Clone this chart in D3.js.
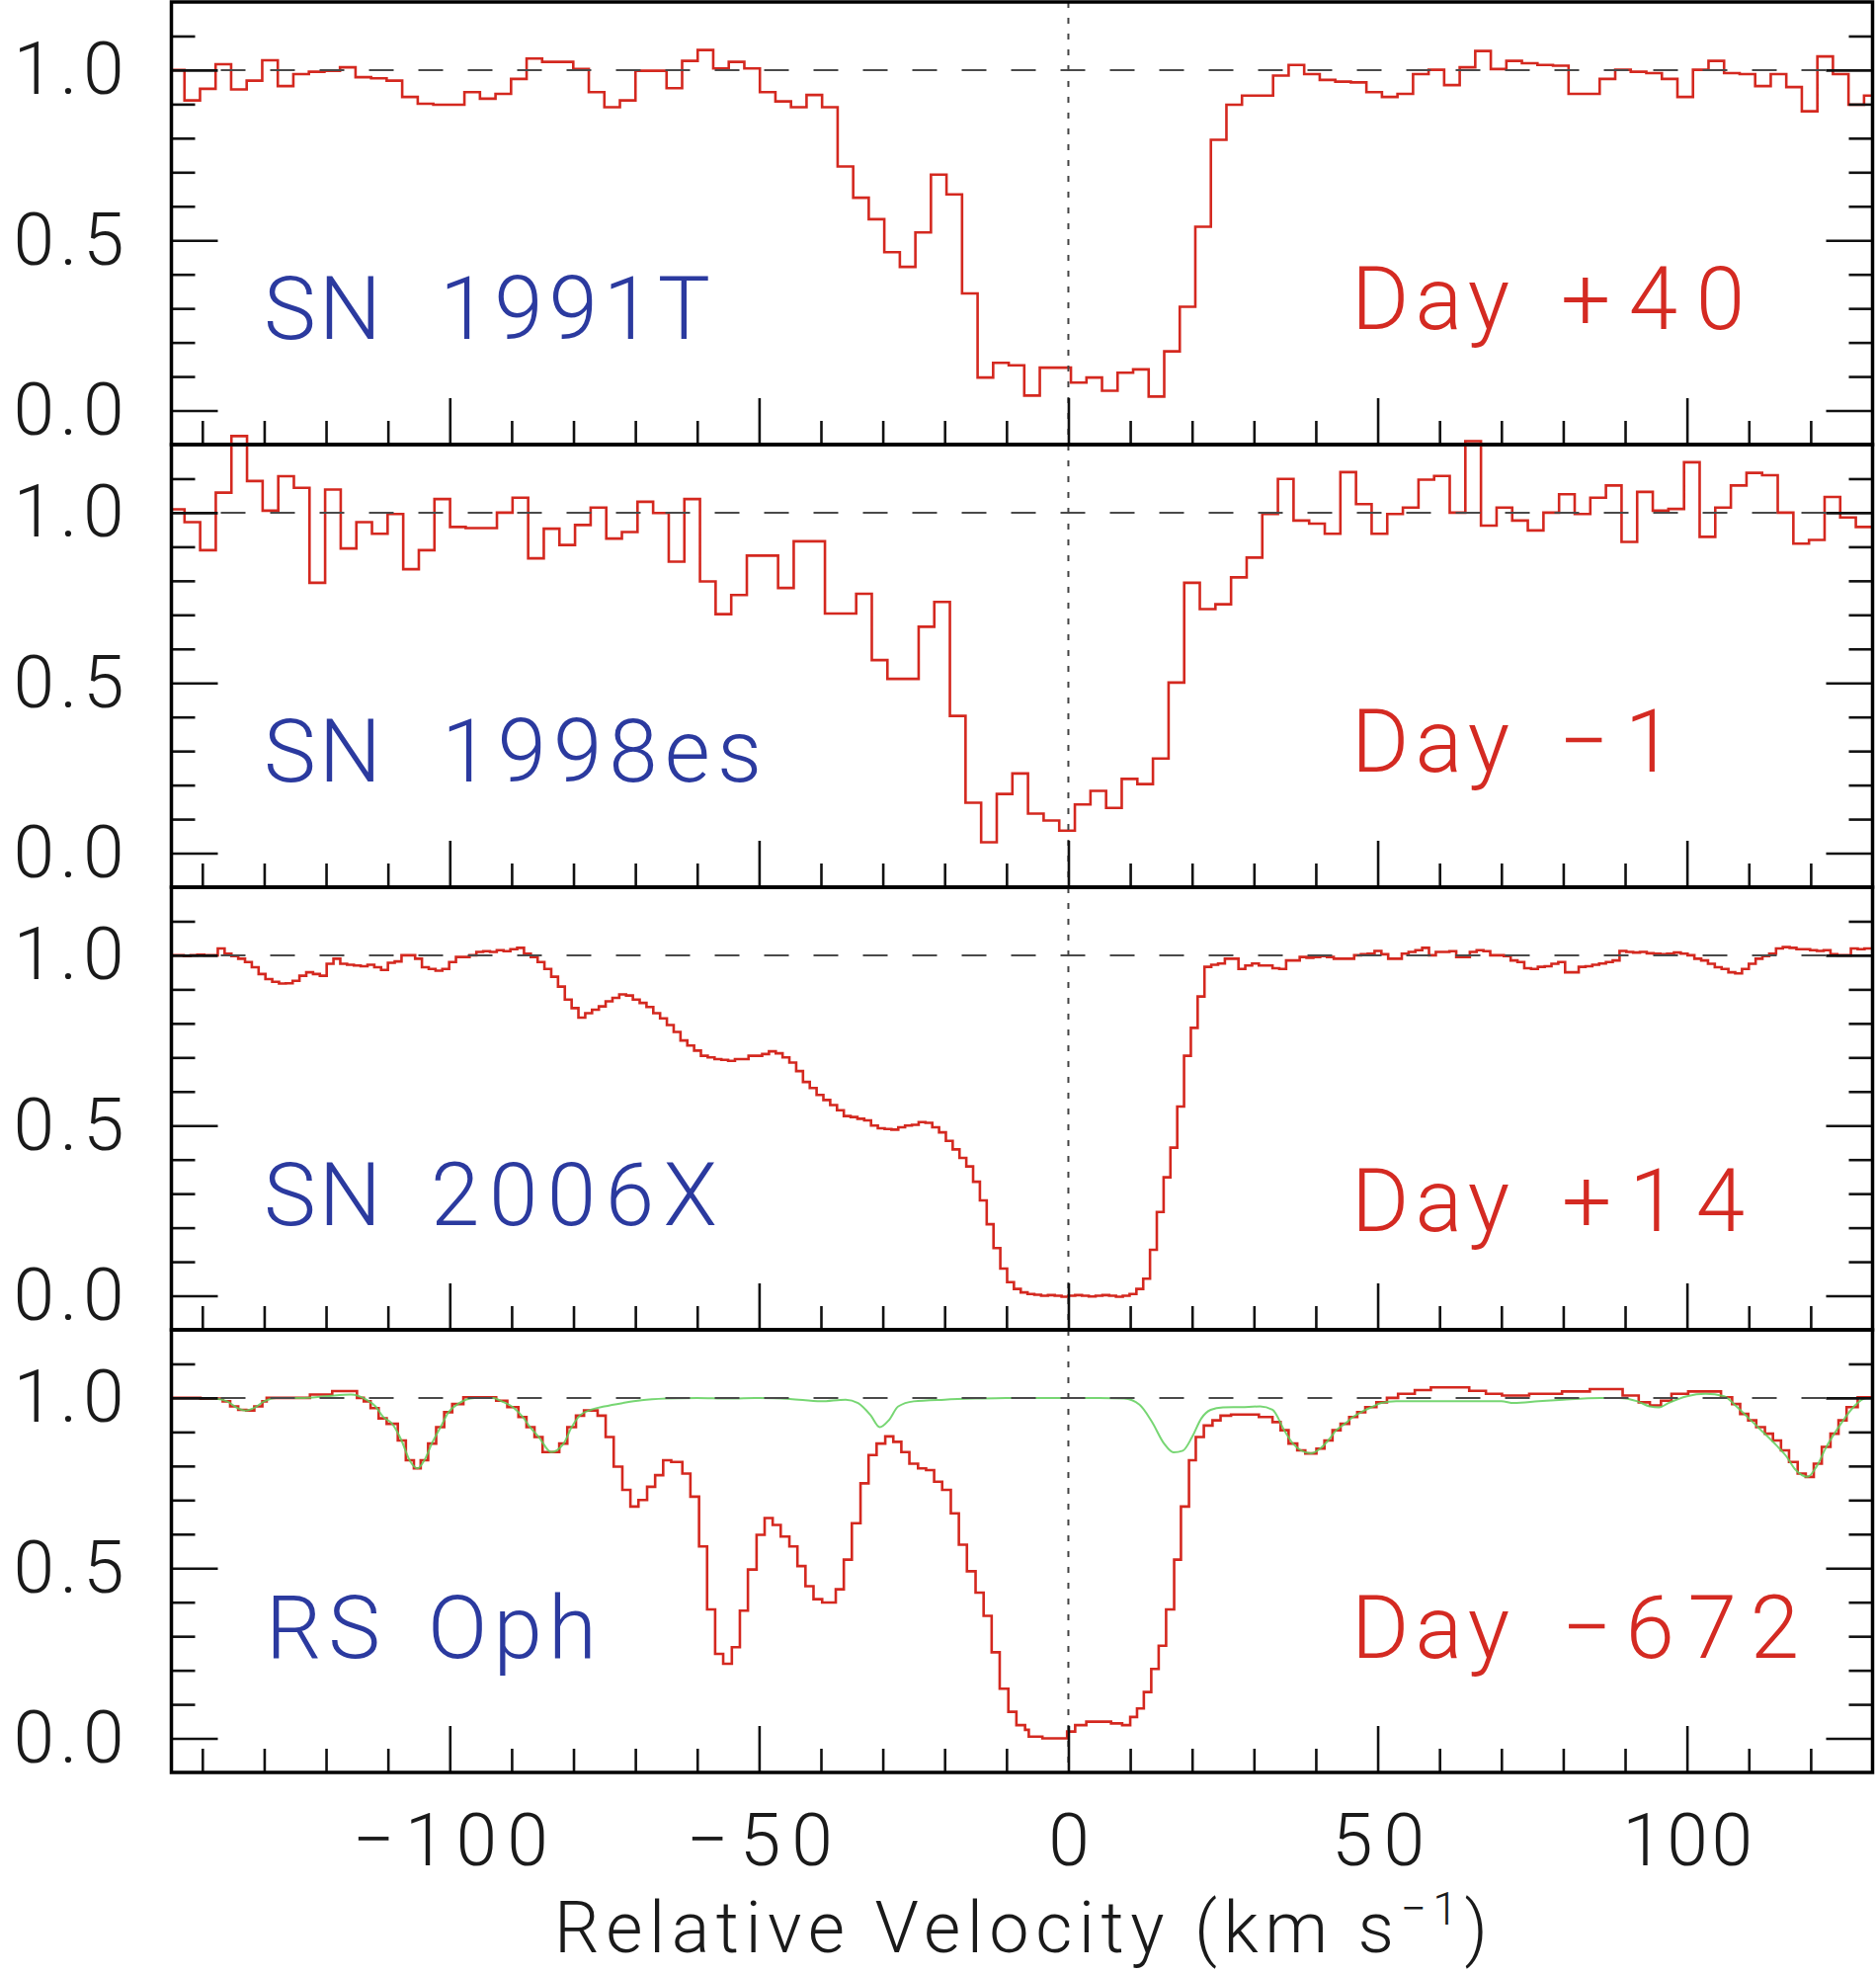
<!DOCTYPE html>
<html>
<head>
<meta charset="utf-8">
<title>Na I D absorption profiles</title>
<script src="https://cdn.jsdelivr.net/npm/d3@7"></script>
<style>
  html, body { margin: 0; padding: 0; background: #ffffff; }
  svg { display: block; }
</style>
</head>
<body>
<svg id="chart" width="1899" height="1997"></svg>
<script>
// ---------------------------------------------------------------
// Data
// ---------------------------------------------------------------
const objectNames = ["SN 1991T", "SN 1998es", "SN 2006X", "RS Oph"];
const epochLabels = ["Day +40", "Day \u22121", "Day +14", "Day \u2212672"];

const velocityDomain = [-145, 130];          // km/s
const fluxDomain = [-0.1, 1.2];              // normalised flux
const xMajorTicks = [-100, -50, 0, 50, 100];
const xMinorTicks = [-140, -130, -120, -110, -90, -80, -70, -60, -40, -30, -20, -10,
                     10, 20, 30, 40, 60, 70, 80, 90, 110, 120];
const yMajorTicks = [0, 0.5, 1.0];
const yMinorTicks = [0.1, 0.2, 0.3, 0.4, 0.6, 0.7, 0.8, 0.9, 1.1];
const continuumLevel = 1.0;
const restVelocity = 0;

// Pixel sampling of each spectrum (first bin start, bin width in km/s)
const grid1991T = { start: -145.4, step: 2.514 };
const grid1998es = { start: -145.4, step: 2.525 };
const grid2006X = { start: -145.2, step: 1.1 };

// SN 1991T, day +40 (binned flux)
const flux1991T = [1.0,
  0.911, 0.945, 1.017, 0.943, 0.969, 1.029, 0.953, 0.988, 0.995, 0.998,
  1.008, 0.979, 0.976, 0.969, 0.921, 0.901, 0.898, 0.898, 0.935, 0.916,
  0.930, 0.974, 1.034, 1.024, 1.024, 1.003, 0.935, 0.891, 0.911, 0.998,
  0.998, 0.947, 1.027, 1.059, 1.005, 1.024, 1.005, 0.935, 0.908, 0.891,
  0.927, 0.891, 0.717, 0.625, 0.562, 0.465, 0.422, 0.523, 0.693, 0.635,
  0.344, 0.097, 0.140, 0.133, 0.044, 0.126, 0.126, 0.082, 0.097, 0.058,
  0.111, 0.121, 0.041, 0.174, 0.305, 0.540, 0.795, 0.898, 0.925, 0.925,
  0.984, 1.015, 0.988, 0.971, 0.966, 0.964, 0.935, 0.921, 0.930, 0.988,
  1.001, 0.956, 1.008, 1.056, 1.003, 1.027, 1.020, 1.015, 1.013, 0.930,
  0.930, 0.974, 1.001, 0.995, 0.991, 0.974, 0.921, 1.001, 1.027, 0.991,
  0.988, 0.953, 0.988, 0.950, 0.879, 1.040, 0.988, 0.898, 0.925];

// SN 1998es, day -1
const flux1998es = [1.01,
  0.972, 0.890, 1.059, 1.225, 1.093, 1.006, 1.107, 1.073, 0.794, 1.068,
  0.895, 0.972, 0.938, 0.996, 0.834, 0.890, 1.040, 0.958, 0.955, 0.955,
  1.000, 1.044, 0.866, 0.953, 0.905, 0.964, 1.015, 0.924, 0.943, 1.032,
  0.999, 0.856, 1.040, 0.798, 0.702, 0.758, 0.874, 0.874, 0.779, 0.916,
  0.916, 0.704, 0.704, 0.762, 0.567, 0.512, 0.512, 0.665, 0.738, 0.403,
  0.148, 0.032, 0.174, 0.234, 0.116, 0.096, 0.066, 0.143, 0.183, 0.133,
  0.218, 0.203, 0.278, 0.501, 0.794, 0.717, 0.731, 0.810, 0.868, 0.996,
  1.099, 0.977, 0.968, 0.938, 1.119, 1.025, 0.938, 0.996, 1.015, 1.097,
  1.108, 1.000, 1.210, 0.962, 1.015, 0.977, 0.948, 1.000, 1.054, 0.996,
  1.044, 1.080, 0.914, 1.061, 1.006, 1.011, 1.148, 0.929, 1.015, 1.080,
  1.117, 1.110, 1.000, 0.909, 0.920, 1.046, 0.986, 0.958];

// SN 2006X, day +14
const flux2006X = [
  1.0, 1.0, 0.998, 1.0, 1.002, 1.0, 1.0, 1.02, 1.005, 0.998,
  0.99, 0.98, 0.965, 0.945, 0.93, 0.922, 0.917, 0.918, 0.925, 0.94,
  0.95, 0.945, 0.94, 0.975, 0.99, 0.975, 0.972, 0.97, 0.968, 0.972,
  0.965, 0.957, 0.978, 0.982, 1.0, 1.0, 0.99, 0.965, 0.96, 0.955,
  0.96, 0.98, 0.995, 0.995, 1.0, 1.01, 1.012, 1.01, 1.015, 1.012,
  1.018, 1.022, 1.005, 0.995, 0.98, 0.96, 0.937, 0.908, 0.87, 0.845,
  0.817, 0.83, 0.84, 0.85, 0.865, 0.875, 0.885, 0.882, 0.87, 0.86,
  0.848, 0.83, 0.815, 0.795, 0.775, 0.75, 0.735, 0.72, 0.705, 0.7,
  0.695, 0.693, 0.69, 0.695, 0.695, 0.705, 0.705, 0.71, 0.718, 0.712,
  0.7, 0.685, 0.66, 0.628, 0.61, 0.59, 0.575, 0.56, 0.545, 0.528,
  0.525, 0.52, 0.515, 0.5, 0.492, 0.49, 0.488, 0.495, 0.5, 0.502,
  0.51, 0.508, 0.495, 0.48, 0.455, 0.43, 0.405, 0.38, 0.335, 0.28,
  0.21, 0.14, 0.08, 0.04, 0.02, 0.01, 0.005, 0.003, 0.0, 0.002,
  0.0, -0.003, 0.0, 0.002, 0.0, -0.002, 0.0, 0.002, 0.0, -0.003,
  0.0, 0.005, 0.02, 0.05, 0.135, 0.246, 0.348, 0.435, 0.556, 0.705,
  0.787, 0.879, 0.966, 0.972, 0.976, 0.99, 0.99, 0.96, 0.97, 0.976,
  0.97, 0.97, 0.962, 0.96, 0.985, 0.985, 0.995, 0.993, 0.995, 0.998,
  0.995, 0.99, 0.99, 0.99, 1.0, 1.003, 1.005, 1.013, 1.003, 0.99,
  0.99, 1.005, 1.01, 1.015, 1.022, 1.0, 1.01, 1.01, 1.012, 0.995,
  0.995, 1.01, 1.015, 1.012, 1.0, 1.0, 0.998, 0.985, 0.98, 0.962,
  0.96, 0.966, 0.968, 0.975, 0.98, 0.95, 0.95, 0.966, 0.968, 0.972,
  0.976, 0.98, 0.985, 1.013, 1.01, 1.008, 1.01, 1.006, 1.005, 1.003,
  1.005, 1.008, 1.005, 1.0, 0.99, 0.985, 0.975, 0.965, 0.96, 0.95,
  0.947, 0.96, 0.975, 0.99, 0.998, 1.005, 1.02, 1.024, 1.022, 1.018,
  1.018, 1.015, 1.013, 1.015, 1.003, 1.0, 1.0, 1.02, 1.018, 1.02];

// RS Oph, day -672: step edges (km/s, last entry closes the final step) and flux
const rsOphVel = [-145.6, -140.3, -136.7, -135.5, -134.2, -132.9, -131.6, -130.3, -129.6, -122.6,
  -119.0, -115.0, -113.9, -112.8, -111.5, -110.2, -108.4, -107.1, -105.8, -104.7,
  -103.5, -102.2, -100.9, -99.6, -97.8, -92.5, -90.7, -88.9, -87.6, -86.3,
  -85.0, -82.3, -81.0, -79.6, -78.3, -76.1, -74.8, -73.5, -72.1, -70.8,
  -69.5, -68.1, -66.8, -65.5, -64.2, -62.4, -61.1, -59.7, -58.4, -57.1,
  -55.8, -54.4, -53.1, -51.8, -50.4, -49.1, -47.8, -46.5, -45.1, -43.8,
  -42.5, -41.2, -39.8, -37.6, -36.3, -35.0, -33.6, -32.3, -31.0, -29.6,
  -28.3, -27.0, -25.7, -24.3, -23.0, -21.7, -20.4, -19.0, -17.7, -16.4,
  -15.0, -13.7, -12.4, -11.1, -9.7, -8.4, -7.0, -6.4, -4.2, -0.2,
  1.1, 2.9, 6.9, 8.7, 10.0, 11.1, 12.2, 13.4, 14.6, 15.8,
  17.1, 18.2, 19.5, 20.6, 21.9, 23.3, 24.6, 26.3, 30.8, 33.0,
  34.3, 35.6, 37.0, 38.3, 40.1, 41.4, 42.7, 44.0, 45.4, 46.7,
  48.0, 49.8, 51.5, 53.3, 56.0, 58.6, 64.8, 67.5, 70.1, 74.5,
  79.8, 84.3, 89.6, 92.2, 94.0, 95.8, 97.5, 100.2, 105.5, 107.3,
  108.6, 109.9, 111.2, 112.6, 113.9, 115.2, 116.5, 117.9, 119.2, 120.5,
  121.8, 123.2, 124.5, 125.8, 127.6, 130.6];
const rsOphFlux = [1.0, 0.998, 0.99, 0.975, 0.965, 0.963, 0.975, 0.99, 1.0, 1.01,
  1.02, 1.0, 0.99, 0.97, 0.94, 0.924, 0.875, 0.817, 0.793, 0.817,
  0.866, 0.914, 0.958, 0.982, 1.002, 0.992, 0.973, 0.944, 0.914, 0.885,
  0.841, 0.866, 0.914, 0.948, 0.963, 0.948, 0.885, 0.798, 0.73, 0.681,
  0.70, 0.739, 0.773, 0.817, 0.812, 0.778, 0.71, 0.564, 0.379, 0.248,
  0.219, 0.268, 0.375, 0.496, 0.598, 0.647, 0.627, 0.593, 0.564, 0.506,
  0.447, 0.409, 0.399, 0.438, 0.525, 0.632, 0.749, 0.832, 0.866, 0.887,
  0.871, 0.841, 0.807, 0.793, 0.788, 0.754, 0.73, 0.661, 0.569, 0.491,
  0.428, 0.36, 0.253, 0.146, 0.078, 0.039, 0.025, 0.005, 0.0, 0.02,
  0.039, 0.049, 0.044, 0.039, 0.063, 0.088, 0.136, 0.204, 0.272, 0.379,
  0.525, 0.681, 0.817, 0.885, 0.919, 0.934, 0.948, 0.951, 0.944, 0.929,
  0.905, 0.866, 0.846, 0.837, 0.851, 0.875, 0.905, 0.924, 0.944, 0.958,
  0.973, 0.987, 1.0, 1.012, 1.023, 1.031, 1.021, 1.012, 1.007, 1.012,
  1.019, 1.026, 1.007, 0.987, 0.978, 0.992, 1.012, 1.019, 1.002, 0.982,
  0.953, 0.934, 0.914, 0.895, 0.875, 0.846, 0.812, 0.778, 0.768, 0.807,
  0.856, 0.895, 0.934, 0.973, 1.002];

// RS Oph comparison profile (smooth curve)
const rsModelVel = [-145, -141, -138, -136, -134.5, -133, -131.5, -130, -128, -124,
  -120, -116, -113.5, -112, -110.8, -109.3, -107.8, -106.5, -105.2, -104.1,
  -102.9, -101.5, -100.2, -98.7, -96, -93, -91.6, -89.8, -88.2, -87,
  -85.6, -83.6, -81.6, -80.3, -79, -77.2, -75, -72, -69, -65,
  -60, -55, -50, -45, -40, -36, -34, -32, -30.5, -29,
  -27.5, -25, -20, -15, -10, -5, 0, 5, 9, 11.5,
  13.5, 15.5, 17, 18.5, 20, 21.5, 23, 25, 28, 31,
  33, 34.9, 36.3, 37.6, 39.2, 40.7, 42, 43.3, 44.7, 46,
  47.3, 49, 50.6, 53, 58, 62, 66, 70, 72, 76,
  80, 86, 89, 92, 94, 95.5, 97, 100, 103, 106,
  108, 110, 112, 114.5, 116, 117.5, 119.5, 121, 122.5, 124,
  125.5, 127, 129, 130];
const rsModelFlux = [1.0, 1.0, 0.998, 0.99, 0.972, 0.963, 0.972, 0.99, 1.0, 1.0,
  1.005, 1.01, 0.995, 0.975, 0.945, 0.924, 0.875, 0.817, 0.793, 0.817,
  0.866, 0.914, 0.958, 0.982, 1.0, 1.0, 0.99, 0.973, 0.944, 0.914,
  0.885, 0.841, 0.866, 0.914, 0.948, 0.965, 0.975, 0.985, 0.993, 0.998,
  1.0, 0.998, 1.0, 0.997, 0.99, 0.995, 0.985, 0.95, 0.914, 0.935,
  0.975, 0.99, 0.995, 0.998, 1.0, 1.0, 1.0, 1.0, 0.998, 0.98,
  0.93, 0.865, 0.84, 0.845, 0.885, 0.94, 0.965, 0.972, 0.973, 0.975,
  0.965, 0.905, 0.866, 0.846, 0.837, 0.851, 0.875, 0.905, 0.924, 0.944,
  0.958, 0.973, 0.985, 0.99, 0.99, 0.99, 0.99, 0.99, 0.985, 0.99,
  0.995, 1.0, 1.0, 0.99, 0.975, 0.972, 0.985, 1.005, 1.012, 1.005,
  0.975, 0.94, 0.905, 0.86, 0.83, 0.79, 0.768, 0.8, 0.855, 0.9,
  0.94, 0.975, 1.0, 1.0];

// ---------------------------------------------------------------
// Layout and style
// ---------------------------------------------------------------
const W = 1899, H = 1997;
const plotLeft = 173.5, plotRight = 1895.5;
const plotTop = 2, panelH = 448;
const FONT = "Roboto, 'Open Sans', Lato, sans-serif";
const SPEC_RED = "#d4281f";
const MODEL_GREEN = "#5fcf5a";
const NAME_BLUE = "#2b3a9f";
const EPOCH_RED = "#d42a22";

// label placement: baseline (flux units) per panel, word x positions and widths (px)
const nameBaseline = [0.21, 0.21, 0.208, 0.237];
const epochBaseline = [0.24, 0.24, 0.19, 0.237];
const nameWordX = [[267, 445], [267, 447], [267, 436], [269, 433]];
const nameWordLen = [[119, 274], [119, 324], [119, 290], [116, 171]];
const epochWordX = [[1368, 1580], [1368, 1578], [1368, 1581], [1368, 1581]];
const epochWordLen = [[160, 186], [160, 116], [160, 185], [160, 240]];

// ---------------------------------------------------------------
// Build series
// ---------------------------------------------------------------
function gridSteps(grid, flux) {
  const pts = flux.map((f, i) => [grid.start + i * grid.step, f]);
  pts.push([grid.start + flux.length * grid.step, flux[flux.length - 1]]);
  return pts;
}
function edgeSteps(vel, flux) {
  const pts = flux.map((f, i) => [vel[i], f]);
  pts.push([vel[flux.length], flux[flux.length - 1]]);
  return pts;
}

const panels = [
  { name: objectNames[0], epoch: epochLabels[0], spec: gridSteps(grid1991T, flux1991T) },
  { name: objectNames[1], epoch: epochLabels[1], spec: gridSteps(grid1998es, flux1998es) },
  { name: objectNames[2], epoch: epochLabels[2], spec: gridSteps(grid2006X, flux2006X) },
  { name: objectNames[3], epoch: epochLabels[3], spec: edgeSteps(rsOphVel, rsOphFlux),
    model: rsModelVel.map((v, i) => [v, rsModelFlux[i]]) }
];

// ---------------------------------------------------------------
// Draw
// ---------------------------------------------------------------
const svg = d3.select("#chart").attr("width", W).attr("height", H);
svg.append("rect").attr("width", W).attr("height", H).attr("fill", "#ffffff");

const x = d3.scaleLinear().domain(velocityDomain).range([plotLeft, plotRight]);

svg.append("defs").append("clipPath").attr("id", "xclip")
  .append("rect")
  .attr("x", plotLeft).attr("y", 0)
  .attr("width", plotRight - plotLeft).attr("height", H);

panels.forEach((p, k) => {
  const top = plotTop + k * panelH;
  const bottom = top + panelH;
  const y = d3.scaleLinear().domain(fluxDomain).range([bottom, top]);
  const g = svg.append("g").attr("class", "panel");

  // spectra
  const stepLine = d3.line().x(d => x(d[0])).y(d => y(d[1])).curve(d3.curveStepAfter);
  const specG = g.append("g").attr("clip-path", "url(#xclip)");
  specG.append("path")
    .attr("d", stepLine(p.spec))
    .attr("fill", "none")
    .attr("stroke", SPEC_RED)
    .attr("stroke-width", 2.6)
    .attr("stroke-linejoin", "miter");
  if (p.model) {
    const smooth = d3.line().x(d => x(d[0])).y(d => y(d[1])).curve(d3.curveMonotoneX);
    specG.append("path")
      .attr("d", smooth(p.model))
      .attr("fill", "none")
      .attr("stroke", MODEL_GREEN)
      .attr("stroke-opacity", 0.85)
      .attr("stroke-width", 2);
  }

  // continuum reference
  g.append("line")
    .attr("x1", plotLeft).attr("x2", plotRight)
    .attr("y1", y(continuumLevel)).attr("y2", y(continuumLevel))
    .attr("stroke", "#4a4a4a").attr("stroke-width", 2)
    .attr("stroke-dasharray", "25,25");

  // rest velocity marker
  g.append("line")
    .attr("x1", x(restVelocity)).attr("x2", x(restVelocity))
    .attr("y1", top).attr("y2", bottom)
    .attr("stroke", "#444").attr("stroke-width", 2)
    .attr("stroke-dasharray", "6,10");

  // ticks
  const styleAxis = sel => {
    sel.select(".domain").remove();
    sel.selectAll(".tick line").attr("stroke", "#111").attr("stroke-width", 2.6);
    sel.attr("font-family", FONT).attr("font-size", 75).attr("font-weight", 300);
    sel.selectAll(".tick text").attr("fill", "#1a1a1a");
  };
  g.append("g").attr("transform", `translate(0,${bottom})`)
    .call(d3.axisBottom(x).tickValues(xMinorTicks).tickSize(-24).tickFormat(""))
    .call(styleAxis);
  const xMaj = d3.axisBottom(x).tickValues(xMajorTicks).tickSize(-47).tickPadding(41);
  if (k < panels.length - 1) xMaj.tickFormat("");
  g.append("g").attr("transform", `translate(0,${bottom})`)
    .call(xMaj).call(styleAxis);

  g.append("g").attr("transform", `translate(${plotLeft},0)`)
    .call(d3.axisLeft(y).tickValues(yMinorTicks).tickSize(-24).tickFormat(""))
    .call(styleAxis);
  g.append("g").attr("transform", `translate(${plotLeft},0)`)
    .call(d3.axisLeft(y).tickValues(yMajorTicks).tickSize(-47).tickPadding(48)
      .tickFormat(d3.format(".1f")))
    .call(styleAxis)
    .call(sel => sel.selectAll(".tick text")
      .attr("textLength", 112).attr("lengthAdjust", "spacing"));
  g.append("g").attr("transform", `translate(${plotRight},0)`)
    .call(d3.axisRight(y).tickValues(yMinorTicks).tickSize(-24).tickFormat(""))
    .call(styleAxis);
  g.append("g").attr("transform", `translate(${plotRight},0)`)
    .call(d3.axisRight(y).tickValues(yMajorTicks).tickSize(-47).tickFormat(""))
    .call(styleAxis);

  // frame
  g.append("rect")
    .attr("x", plotLeft).attr("y", top)
    .attr("width", plotRight - plotLeft).attr("height", panelH)
    .attr("fill", "none").attr("stroke", "#000").attr("stroke-width", 3.5);

  // labels: object name (left) and epoch (right)
  const addLabel = (text, xs, lens, base, color) => {
    const words = text.split(" ");
    const t = g.append("text")
      .attr("y", y(base))
      .attr("font-family", FONT).attr("font-weight", 300)
      .attr("font-size", 89).attr("fill", color);
    words.forEach((w, i) => {
      if (i > 0) t.append(() => document.createTextNode(" "));
      t.append("tspan").attr("x", xs[i])
        .attr("textLength", lens[i]).attr("lengthAdjust", "spacing")
        .text(w);
    });
  };
  addLabel(p.name, nameWordX[k], nameWordLen[k], nameBaseline[k], NAME_BLUE);
  addLabel(p.epoch, epochWordX[k], epochWordLen[k], epochBaseline[k], EPOCH_RED);
});

// widen the bottom tick labels to the plot's lettering
const xLabelLen = { "\u2212100": 198, "\u221250": 148, "50": 94, "100": 132 };
svg.selectAll(".tick text").each(function () {
  const s = this.textContent;
  if (xLabelLen[s]) d3.select(this).attr("textLength", xLabelLen[s]).attr("lengthAdjust", "spacing");
});

// axis title
const title = svg.append("text")
  .attr("x", 561).attr("y", 1976)
  .attr("font-family", FONT).attr("font-weight", 300)
  .attr("font-size", 72).attr("fill", "#1a1a1a");
title.append("tspan").text("Relative Velocity (km s");
title.append("tspan").attr("font-size", 46).attr("dy", -28).text("\u22121");
title.append("tspan").attr("dy", 28).text(")");
const natural = title.node().getComputedTextLength();
const nChars = title.node().textContent.length;
title.attr("letter-spacing", ((945 - natural) / (nChars - 1)).toFixed(2));
</script>
</body>
</html>
